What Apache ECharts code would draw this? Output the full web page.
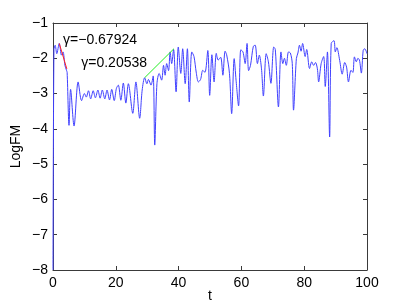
<!DOCTYPE html>
<html>
<head>
<meta charset="utf-8">
<script src="https://cdn.jsdelivr.net/npm/echarts@6/dist/echarts.min.js"></script>
<style>html,body{margin:0;padding:0;background:#fff}#c{width:405px;height:304px}</style>
</head>
<body>
<div id="c"></div>
<script>
// Blue LogFM trace (t, value)
var tValues = [0,0.3,0.7,1.2,2.0,2.7,3.2,3.8,4.3,4.5,5.1,5.6,6.7,8.0,9.1,10.0,10.6,11.3,12.0,12.8,13.5,14.3,15.0,15.7,16.5,17.2,18.0,18.7,19.5,20.2,20.8,21.6,22.4,23.2,24.0,25.4,26.4,27.6,28.4,29.2,29.9,30.4,31.2,31.9,32.4,33.1,33.8,34.6,35.2,35.7,36.2,36.8,37.3,37.8,38.4,39.2,39.9,40.7,41.3,42.1,42.8,43.4,44.2,44.9,45.6,46.3,47.0,47.7,48.4,49.3,49.9,50.6,51.3,52.0,52.6,53.4,54.1,54.8,55.3,56.2,56.9,57.7,58.3,59.1,59.8,60.5,61.2,61.8,62.3,62.9,63.8,64.4,65.1,65.7,66.4,67.0,67.9,68.6,69.4,70.3,70.8,71.8,72.6,73.2,73.7,74.3,75.0,75.6,76.2,76.6,77.5,78.0,78.5,79.0,79.5,80.3,80.8,81.7,82.4,83.0,83.6,84.2,84.6,85.4,86.2,86.7,87.4,88.1,88.6,89.5,89.9,90.4,91.3,92.1,92.9,93.5,94.1,94.9,95.5,96.0,96.6,97.1,97.6,98.2,98.8,99.3,100];
var logFM = [-8,-1.75,-1.63,-1.87,-1.58,-1.91,-1.82,-2.2,-2.34,-2.4,-3.9,-2.88,-3.92,-2.67,-3.2,-3.0,-3.1,-2.92,-3.15,-2.92,-3.12,-2.9,-3.13,-2.9,-3.15,-2.9,-3.18,-2.88,-3.2,-2.85,-2.76,-3.19,-2.7,-3.27,-2.72,-3.56,-2.67,-3.7,-2.9,-2.55,-2.72,-2.6,-2.76,-2.5,-4.46,-2.72,-2.43,-2.62,-2.2,-2.48,-2.15,-2.35,-1.82,-2.15,-1.75,-2.95,-1.68,-2.43,-1.73,-2.72,-1.73,-3.24,-1.82,-1.95,-2.39,-2.67,-2.6,-2.34,-2.4,-1.78,-3.05,-1.9,-2.67,-1.86,-2.05,-1.97,-2.48,-1.8,-1.9,-2.43,-3.57,-2.01,-2.62,-3.35,-1.76,-1.82,-2.15,-1.58,-2.35,-2.2,-1.66,-1.63,-2.15,-1.91,-2.3,-3.07,-1.87,-2.1,-2.71,-1.68,-1.75,-3.38,-1.82,-2.15,-2.0,-2.2,-1.82,-1.85,-2.15,-3.47,-2.01,-1.85,-1.63,-1.8,-1.58,-1.95,-1.75,-2.29,-2.1,-2.2,-2.12,-2.3,-2.67,-2.15,-1.95,-2.8,-1.82,-4.23,-1.58,-1.5,-1.82,-1.7,-2.06,-2.45,-2.12,-2.25,-2.67,-2.34,-2.4,-1.96,-2.1,-2.0,-2.05,-2.42,-1.77,-1.73,-1.87];
// Fitted segments
var redT = [2.0, 4.4];
var redV = [-1.58, -2.3];
var greenT = [29.2, 38.5];
var greenV = [-2.55, -1.73];
// Annotations
var annotTexts = ['\u03b3=\u22120.67924', '\u03b3=0.20538'];
var annotT = [3.2, 9.0];
var annotV = [-1.49, -2.14];
// Ticks
var xTicks = [0, 20, 40, 60, 80, 100];
var yTicks = [-8, -7, -6, -5, -4, -3, -2, -1];

function pairs(a, b) { return a.map(function (x, i) { return [x, b[i]]; }); }
function fmt(v) { return String(v).replace('-', '\u2212'); }

var FONT = 'Liberation Sans, Arial, Helvetica, sans-serif';
var axisCol = '#3a3a3a';
var chart = echarts.init(document.getElementById('c'), null, { renderer: 'canvas' });

var baseX = {
  type: 'value', min: xTicks[0], max: xTicks[xTicks.length - 1], interval: 20,
  axisLine: { show: true, onZero: false, lineStyle: { color: axisCol, width: 1 } },
  axisTick: { show: true, inside: true, length: 4, lineStyle: { color: axisCol } },
  splitLine: { show: false }
};
var baseY = {
  type: 'value', min: yTicks[0], max: yTicks[yTicks.length - 1], interval: 1,
  axisLine: { show: true, onZero: false, lineStyle: { color: axisCol, width: 1 } },
  axisTick: { show: true, inside: true, length: 4, lineStyle: { color: axisCol } },
  splitLine: { show: false }
};

chart.setOption({
  animation: false,
  grid: { left: 53, right: 38, top: 23, bottom: 34, containLabel: false, outerBoundsMode: 'none' },
  xAxis: [
    Object.assign({}, baseX, {
      position: 'bottom',
      name: 't', nameLocation: 'middle', nameGap: 19, nameMoveOverlap: false,
      nameTextStyle: { fontFamily: FONT, fontSize: 14, color: '#000' },
      axisLabel: { fontFamily: FONT, fontSize: 14, color: '#000', margin: 6, formatter: fmt }
    }),
    Object.assign({}, baseX, { position: 'top', axisLabel: { show: false } })
  ],
  yAxis: [
    Object.assign({}, baseY, {
      position: 'left',
      name: 'LogFM', nameLocation: 'middle', nameGap: 30, nameMoveOverlap: false,
      nameTextStyle: { fontFamily: FONT, fontSize: 14, color: '#000' },
      axisLabel: { fontFamily: FONT, fontSize: 14, color: '#000', margin: 5, formatter: fmt }
    }),
    Object.assign({}, baseY, { position: 'right', axisLabel: { show: false } })
  ],
  series: [
    { type: 'line', data: pairs(tValues, logFM), showSymbol: false, symbol: 'none', smooth: 0.3,
      lineStyle: { color: '#4040ff', width: 1 }, clip: true, z: 2 },
    { type: 'line', data: pairs(redT, redV), symbol: 'none',
      lineStyle: { color: '#ff2020', width: 1 }, z: 3 },
    { type: 'line', data: pairs(greenT, greenV), symbol: 'none',
      lineStyle: { color: '#22ee22', width: 1 }, z: 3 }
  ]
});

var g = annotTexts.map(function (txt, i) {
  var p = chart.convertToPixel({ gridIndex: 0 }, [annotT[i], annotV[i]]);
  return { type: 'text', x: p[0], y: p[1],
    style: { text: txt, fontFamily: FONT, fontSize: 14, fill: '#000', verticalAlign: 'middle' } };
});
chart.setOption({ graphic: g });
</script>
</body>
</html>
